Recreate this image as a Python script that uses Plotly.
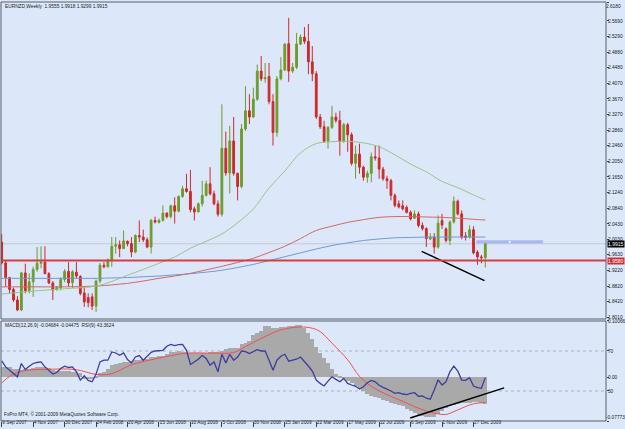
import plotly.graph_objects as go

# ---------------- data ----------------
date_labels = ["9 Sep 2007", "4 Nov 2007", "30 Dec 2007", "24 Feb 2008", "20 Apr 2008",
               "15 Jun 2008", "10 Aug 2008", "5 Oct 2008", "30 Nov 2008", "25 Jan 2009",
               "22 Mar 2009", "17 May 2009", "12 Jul 2009", "6 Sep 2009", "1 Nov 2009",
               "27 Dec 2009"]
date_bars = [0, 8, 16, 24, 32, 40, 48, 56, 64, 72, 80, 88, 96, 104, 112, 120]

opens = [1.996, 1.942, 1.904, 1.873, 1.846, 1.820, 1.916, 1.870, 1.893, 1.925,
         1.941, 1.944, 1.914, 1.890, 1.872, 1.877, 1.899, 1.920, 1.891, 1.918,
         1.907, 1.864, 1.852, 1.854, 1.830, 1.895, 1.936, 1.932, 1.949, 1.985,
         1.989, 1.979, 1.998, 1.992, 1.970, 2.013, 2.009, 2.002, 1.983, 2.052,
         2.047, 2.052, 2.071, 2.062, 2.090, 2.076, 2.114, 2.134, 2.127, 2.082,
         2.074, 2.095, 2.117, 2.147, 2.121, 2.095, 2.068, 2.239, 2.175, 2.258,
         2.174, 2.140, 2.289, 2.336, 2.320, 2.366, 2.439, 2.419, 2.425, 2.360,
         2.280, 2.419, 2.442, 2.510, 2.439, 2.449, 2.509, 2.527, 2.516, 2.463,
         2.432, 2.320, 2.295, 2.257, 2.293, 2.320, 2.311, 2.257, 2.300, 2.274,
         2.200, 2.224, 2.190, 2.164, 2.174, 2.217, 2.214, 2.185, 2.160, 2.155,
         2.117, 2.095, 2.090, 2.086, 2.073, 2.058, 2.069, 2.039, 2.031, 2.004,
         2.009, 1.983, 2.052, 2.030, 2.000, 2.048, 2.102, 2.069, 2.012, 2.009,
         2.028, 1.970, 1.9575, 1.9555]
highs = [2.016, 1.949, 1.906, 1.878, 1.856, 1.919, 1.940, 1.915, 1.932, 1.983,
         1.985, 1.985, 1.918, 1.895, 1.882, 1.905, 1.926, 1.944, 1.923, 1.944,
         1.910, 1.880, 1.863, 1.863, 1.899, 1.942, 1.944, 1.954, 2.009, 2.009,
         2.000, 2.026, 2.000, 2.009, 2.016, 2.052, 2.028, 2.008, 2.056, 2.062,
         2.057, 2.091, 2.073, 2.093, 2.112, 2.117, 2.142, 2.173, 2.183, 2.088,
         2.099, 2.155, 2.155, 2.190, 2.129, 2.104, 2.353, 2.282, 2.297, 2.320,
         2.176, 2.302, 2.400, 2.379, 2.396, 2.456, 2.478, 2.460, 2.460, 2.379,
         2.426, 2.475, 2.511, 2.577, 2.460, 2.538, 2.534, 2.553, 2.561, 2.504,
         2.439, 2.328, 2.310, 2.297, 2.349, 2.331, 2.336, 2.305, 2.305, 2.280,
         2.246, 2.251, 2.194, 2.181, 2.228, 2.246, 2.246, 2.191, 2.168, 2.160,
         2.122, 2.104, 2.104, 2.091, 2.078, 2.078, 2.075, 2.047, 2.034, 2.019,
         2.019, 2.065, 2.069, 2.034, 2.052, 2.114, 2.106, 2.078, 2.022, 2.039,
         2.037, 1.975, 1.963, 1.9918]
lows = [1.938, 1.880, 1.863, 1.841, 1.817, 1.817, 1.863, 1.863, 1.854, 1.919,
        1.928, 1.913, 1.887, 1.846, 1.871, 1.871, 1.892, 1.880, 1.877, 1.902,
        1.858, 1.828, 1.827, 1.820, 1.815, 1.889, 1.928, 1.930, 1.932, 1.966,
        1.957, 1.979, 1.985, 1.957, 1.967, 1.996, 1.996, 1.980, 1.966, 2.044,
        2.044, 2.049, 2.057, 2.057, 2.044, 2.073, 2.111, 2.124, 2.073, 2.052,
        2.073, 2.088, 2.114, 2.117, 2.091, 2.062, 2.062, 2.168, 2.122, 2.168,
        2.104, 2.135, 2.284, 2.302, 2.318, 2.362, 2.413, 2.409, 2.353, 2.246,
        2.269, 2.415, 2.439, 2.411, 2.434, 2.444, 2.506, 2.509, 2.431, 2.413,
        2.315, 2.289, 2.253, 2.238, 2.289, 2.305, 2.220, 2.253, 2.230, 2.194,
        2.160, 2.173, 2.155, 2.150, 2.151, 2.207, 2.160, 2.155, 2.134, 2.104,
        2.086, 2.083, 2.078, 2.070, 2.052, 2.056, 2.034, 2.026, 1.983, 2.001,
        1.966, 1.979, 2.030, 1.995, 1.988, 2.044, 2.065, 2.003, 2.000, 2.005,
        1.964, 1.937, 1.941, 1.9299]
closes = [1.942, 1.904, 1.873, 1.846, 1.820, 1.916, 1.870, 1.893, 1.925, 1.941,
          1.944, 1.914, 1.890, 1.872, 1.878, 1.899, 1.920, 1.890, 1.919, 1.908,
          1.863, 1.841, 1.839, 1.830, 1.895, 1.936, 1.932, 1.949, 1.985, 1.989,
          1.979, 1.999, 1.992, 1.970, 2.013, 2.009, 2.002, 1.983, 2.052, 2.048,
          2.052, 2.071, 2.062, 2.090, 2.076, 2.114, 2.134, 2.127, 2.080, 2.074,
          2.095, 2.117, 2.147, 2.121, 2.095, 2.068, 2.239, 2.175, 2.258, 2.174,
          2.140, 2.289, 2.336, 2.320, 2.366, 2.439, 2.419, 2.422, 2.360, 2.280,
          2.419, 2.442, 2.509, 2.439, 2.449, 2.509, 2.527, 2.516, 2.463, 2.432,
          2.320, 2.295, 2.257, 2.293, 2.320, 2.311, 2.257, 2.300, 2.274, 2.200,
          2.224, 2.190, 2.164, 2.174, 2.217, 2.214, 2.185, 2.160, 2.155, 2.117,
          2.091, 2.087, 2.082, 2.073, 2.056, 2.069, 2.039, 2.031, 2.005, 2.009,
          1.983, 2.045, 2.040, 2.000, 2.048, 2.102, 2.069, 2.009, 2.008, 2.028,
          1.968, 1.9575, 1.9555, 1.9915]

ma_bars = [0, 8, 16, 24, 28, 32, 36, 40, 44, 48, 52, 56, 60, 64, 68, 72, 76, 80,
           84, 88, 92, 96, 100, 104, 108, 112, 116, 120, 123]
ma_green = [1.861, 1.869, 1.875, 1.882, 1.894, 1.910, 1.925, 1.941, 1.957, 1.980,
            1.998, 2.017, 2.046, 2.082, 2.136, 2.180, 2.227, 2.251, 2.256, 2.257,
            2.253, 2.243, 2.222, 2.198, 2.178, 2.153, 2.137, 2.118, 2.105]
ma_red = [1.880, 1.880, 1.880, 1.882, 1.885, 1.889, 1.895, 1.902, 1.908, 1.915,
          1.924, 1.933, 1.943, 1.954, 1.969, 1.985, 2.005, 2.026, 2.037, 2.047,
          2.054, 2.060, 2.062, 2.062, 2.061, 2.060, 2.058, 2.055, 2.053]
ma_blue = [1.902, 1.902, 1.902, 1.902, 1.903, 1.904, 1.906, 1.908, 1.911, 1.914,
           1.918, 1.923, 1.930, 1.938, 1.948, 1.958, 1.968, 1.978, 1.987, 1.994,
           2.000, 2.004, 2.007, 2.008, 2.009, 2.009, 2.009, 2.009, 2.009]

macd_hist = [0.0195, 0.0195, 0.0190, 0.0150, 0.0146, 0.0140, 0.0146, 0.0150, 0.0160, 0.0185,
             0.0190, 0.0185, 0.0170, 0.0130, 0.0119, 0.0115, 0.0119, 0.0110, 0.0101, 0.0095,
             0.0080, -0.0015, -0.0025, -0.0023, 0.0012, 0.0080, 0.0101, 0.0150, 0.0220, 0.0243,
             0.0260, 0.0284, 0.0284, 0.0290, 0.0314, 0.0314, 0.0320, 0.0330, 0.0360, 0.0373,
             0.0380, 0.0390, 0.0420, 0.0462, 0.0462, 0.0470, 0.0462, 0.0450, 0.0433, 0.0433,
             0.0440, 0.0433, 0.0440, 0.0456, 0.0456, 0.0450, 0.0480, 0.0500, 0.0522, 0.0522,
             0.0530, 0.0590, 0.0611, 0.0650, 0.0750, 0.0789, 0.0830, 0.0918, 0.0918, 0.0877,
             0.0877, 0.0906, 0.0906, 0.0910, 0.0920, 0.0936, 0.0936, 0.0880, 0.0800, 0.0680,
             0.0550, 0.0430, 0.0340, 0.0255, 0.0150, 0.0065, 0.0020, -0.0014, -0.0059, -0.0094,
             -0.0147, -0.0183, -0.0236, -0.0290, -0.0325, -0.0352, -0.0366, -0.0396, -0.0423, -0.0449,
             -0.0467, -0.0485, -0.0510, -0.0554, -0.0590, -0.0627, -0.0663, -0.0690, -0.0708, -0.0708,
             -0.0700, -0.0645, -0.0590, -0.0545, -0.0518, -0.0490, -0.0470, -0.0460, -0.0455, -0.0450,
             -0.0445, -0.0445, -0.0458, -0.04684]

signal_bars = [0, 2, 5, 8, 12, 17, 20, 23, 25, 28, 33, 38, 42, 47, 54, 59, 62, 67, 71, 76,
               79, 81, 84, 88, 91, 94, 98, 101, 105, 108, 111, 113, 116, 118, 120, 123]
signal_vals = [-0.0099, 0.0018, 0.0107, 0.0137, 0.0145, 0.0149, 0.0124, 0.0066, 0.0048, 0.0066,
               0.0226, 0.0314, 0.0373, 0.0433, 0.0433, 0.0444, 0.0551, 0.0728, 0.0847, 0.0900,
               0.0877, 0.0817, 0.0611, 0.0314, 0.0018, -0.0160, -0.0307, -0.0396, -0.0520, -0.0600,
               -0.0650, -0.0660, -0.0580, -0.0520, -0.0470, -0.04475]

rsi_vals = [60.1, 54.1, 50.8, 47.6, 44.2, 57.5, 51.5, 54.8, 57.5, 58.5,
            59.1, 54.1, 50.1, 46.9, 48.5, 52.5, 54.8, 53.5, 54.1, 49.2,
            40.9, 45.2, 40.6, 39.2, 46.9, 59.1, 60.8, 60.8, 69.0, 68.0,
            65.7, 68.0, 61.5, 58.1, 64.0, 65.4, 60.8, 64.7, 68.7, 70.0,
            70.4, 70.7, 74.7, 76.6, 75.4, 76.4, 76.6, 70.7, 56.5, 58.8,
            61.8, 65.7, 62.5, 55.8, 59.1, 49.2, 66.7, 58.1, 66.7, 60.8,
            64.0, 70.0, 69.4, 67.4, 69.0, 71.4, 70.0, 70.0, 60.8, 50.8,
            60.8, 64.7, 66.7, 59.8, 60.8, 61.8, 64.0, 60.0, 55.0, 50.0,
            41.0, 37.6, 35.0, 39.9, 44.2, 41.6, 39.2, 42.6, 37.6, 36.0,
            34.7, 32.0, 34.3, 38.2, 40.6, 39.2, 35.7, 33.7, 32.0, 30.0,
            27.7, 28.3, 27.0, 26.3, 27.7, 28.3, 24.7, 25.0, 22.8, 21.8,
            31.0, 41.2, 36.0, 39.2, 49.2, 54.8, 49.8, 40.9, 40.6, 43.2,
            35.0, 33.3, 32.7, 43.3624]

price_top = 2.6180
price_ticks = [2.5690, 2.5290, 2.4880, 2.4480, 2.4070, 2.3670, 2.3270, 2.2860,
               2.2460, 2.2050, 2.1650, 2.1240, 2.0840, 2.0430, 2.0030, 1.9630, 1.9220,
               1.8820, 1.8420, 1.8010]
macd_max = 0.10066
macd_min = -0.07773
rsi_levels = [70, 30]

bid_price = 1.9915
hline_price = 1.948
hline_text = "1.9580"
trend_main_x = [106.8, 122.8]
trend_main_y = [1.972, 1.896]
trend_ind_x = [103.9, 127.8]
trend_ind_y = [-0.0723, -0.0187]
rect_x = [120.7, 137.7]
rect_y = [1.992, 2.0004]

title_text = "EURNZD,Weekly  1.9555 1.9918 1.9299 1.9915"
ind_text = "MACD(12,26,9) -0.04684 -0.04475  RSI(9) 43.3624"
copy_text = "FxPro MT4, \u00a9 2001-2009 MetaQuotes Software Corp."

# ---------------- figure ----------------
BG = "#dce8fa"
BULL = "#6e9b2a"
BEAR = "#cc2a2a"
FONT = "Liberation Sans, Arial, sans-serif"
TXT = "#1a1a1a"
bars = list(range(len(opens)))

fig = go.Figure()

fig.add_trace(go.Scatter(x=ma_bars, y=ma_blue, mode="lines", line=dict(color="#6d9bd8", width=1, shape="spline"),
                         xaxis="x", yaxis="y", hoverinfo="skip"))
fig.add_trace(go.Scatter(x=ma_bars, y=ma_red, mode="lines", line=dict(color="#d36868", width=1, shape="spline"),
                         xaxis="x", yaxis="y", hoverinfo="skip"))
fig.add_trace(go.Scatter(x=ma_bars, y=ma_green, mode="lines", line=dict(color="#9cc487", width=1, shape="spline"),
                         xaxis="x", yaxis="y", hoverinfo="skip"))

fig.add_trace(go.Candlestick(
    x=bars, open=opens, high=highs, low=lows, close=closes,
    increasing=dict(line=dict(color=BULL, width=1), fillcolor=BULL),
    decreasing=dict(line=dict(color=BEAR, width=1), fillcolor=BEAR),
    whiskerwidth=0, xaxis="x", yaxis="y", hoverinfo="skip"))

fig.add_trace(go.Scatter(x=trend_main_x, y=trend_main_y, mode="lines", line=dict(color="black", width=1.5),
                         xaxis="x", yaxis="y", hoverinfo="skip"))
fig.add_trace(go.Scatter(x=[sum(rect_x) / 2], y=[sum(rect_y) / 2], mode="markers",
                         marker=dict(color="white", size=2), xaxis="x", yaxis="y", hoverinfo="skip"))

# indicator window
fig.add_trace(go.Bar(x=bars, y=macd_hist, marker=dict(color="#a9a9a9", line=dict(width=0)), width=1.0,
                     xaxis="x", yaxis="y2", hoverinfo="skip"))
fig.add_trace(go.Scatter(x=signal_bars, y=signal_vals, mode="lines", line=dict(color="#f05050", width=1, shape="spline"),
                         xaxis="x", yaxis="y2", hoverinfo="skip"))
fig.add_trace(go.Scatter(x=trend_ind_x, y=trend_ind_y, mode="lines", line=dict(color="black", width=1.5),
                         xaxis="x", yaxis="y2", hoverinfo="skip"))
fig.add_trace(go.Scatter(x=bars, y=rsi_vals, mode="lines", line=dict(color="#3d3d9e", width=1.3),
                         xaxis="x", yaxis="y3", hoverinfo="skip"))

tickfont = dict(family=FONT, size=4.8, color=TXT)
MAIN_DOM = [0.2434, 1.0]
IND_DOM = [0.0, 0.2387]
MAIN_RANGE = [1.7966, price_top]
IND_RANGE = [macd_min, macd_max]
common = dict(side="right", anchor="x", automargin=False, ticks="outside", ticklen=2,
              ticklabelstandoff=-2,
              tickcolor="#404040", tickfont=tickfont, showgrid=False, zeroline=False, showline=False)

fig.update_layout(
    width=625, height=429,
    margin=dict(l=1, r=19, t=2, b=8, autoexpand=False),
    paper_bgcolor=BG, plot_bgcolor=BG,
    showlegend=False, boxgap=0.35, bargap=0,
    xaxis=dict(range=[-0.18, 153.7], anchor="y2", tickvals=date_bars, ticktext=date_labels,
               ticks="outside", ticklen=5, tickcolor="#404040", ticklabelposition="outside right",
               ticklabelstandoff=-4, tickangle=0, automargin=False,
               tickfont=dict(family=FONT, size=4.8, color=TXT),
               showgrid=False, zeroline=False, showline=False,
               rangeslider=dict(visible=False)),
    yaxis=dict(domain=MAIN_DOM, range=MAIN_RANGE, tickvals=price_ticks,
               ticktext=[f"{v:.4f}" for v in price_ticks], **common),
    yaxis4=dict(overlaying="y", range=MAIN_RANGE, tickvals=[price_top], ticktext=[f"{price_top:.4f}"],
                ticklabelposition="outside bottom", **common),
    yaxis2=dict(domain=IND_DOM, range=IND_RANGE, tickvals=[macd_max, 0.0],
                ticktext=[f"{macd_max:.5f}", "0.00"], **common),
    yaxis5=dict(overlaying="y2", range=IND_RANGE, tickvals=[macd_min], ticktext=[f"{macd_min:.5f}"],
                ticklabelposition="outside top", **common),
    yaxis3=dict(overlaying="y2", range=[0, 100], tickvals=rsi_levels,
                ticktext=[str(v) for v in rsi_levels], **common),
)
fig.add_trace(go.Scatter(x=[None], y=[None], xaxis="x", yaxis="y4", hoverinfo="skip"))
fig.add_trace(go.Scatter(x=[None], y=[None], xaxis="x", yaxis="y5", hoverinfo="skip"))

shapes = []
shapes.append(dict(type="line", xref="paper", yref="y", x0=0, x1=1, y0=bid_price, y1=bid_price,
                   line=dict(color="#c4c8d0", width=1), layer="below"))
shapes.append(dict(type="line", xref="paper", yref="y", x0=0, x1=1, y0=hline_price, y1=hline_price,
                   line=dict(color="#d04040", width=2), layer="above"))
shapes.append(dict(type="rect", xref="x", yref="y", x0=rect_x[0], x1=rect_x[1], y0=rect_y[0], y1=rect_y[1],
                   fillcolor="#a9b9f0", line=dict(width=0), layer="below"))
for lv in rsi_levels:
    shapes.append(dict(type="line", xref="paper", yref="y3", x0=0, x1=1, y0=lv, y1=lv,
                       line=dict(color="#a8b0c0", width=1, dash="dot"), layer="below"))
for dom in (MAIN_DOM, IND_DOM):
    shapes.append(dict(type="rect", xref="paper", yref="paper", x0=0, x1=1, y0=dom[0], y1=dom[1],
                       line=dict(color="#5a5e6a", width=1), fillcolor="rgba(0,0,0,0)", layer="above"))
fig.update_layout(shapes=shapes)

small = dict(family=FONT, size=4.8, color=TXT)
annotations = [
    dict(text=title_text, xref="paper", yref="paper", x=0.004, y=0.990, xanchor="left", yanchor="middle",
         showarrow=False, font=small),
    dict(text=ind_text, xref="paper", yref="paper", x=0.004, y=0.229, xanchor="left", yanchor="middle",
         showarrow=False, font=small),
    dict(text=copy_text, xref="paper", yref="paper", x=0.002, y=0.016, xanchor="left", yanchor="middle",
         showarrow=False, font=small),
    dict(text=f"{bid_price:.4f}", xref="paper", yref="y", x=1, y=bid_price, xanchor="left", yanchor="middle",
         xshift=1, showarrow=False, bgcolor="#000000", borderpad=0,
         font=dict(family=FONT, size=5, color="white")),
    dict(text=hline_text, xref="paper", yref="y", x=1, y=hline_price, xanchor="left", yanchor="middle",
         xshift=1, showarrow=False, bgcolor="#d03030", borderpad=0,
         font=dict(family=FONT, size=5, color="white")),
]
fig.update_layout(annotations=annotations)

fig.write_html("out.html")
